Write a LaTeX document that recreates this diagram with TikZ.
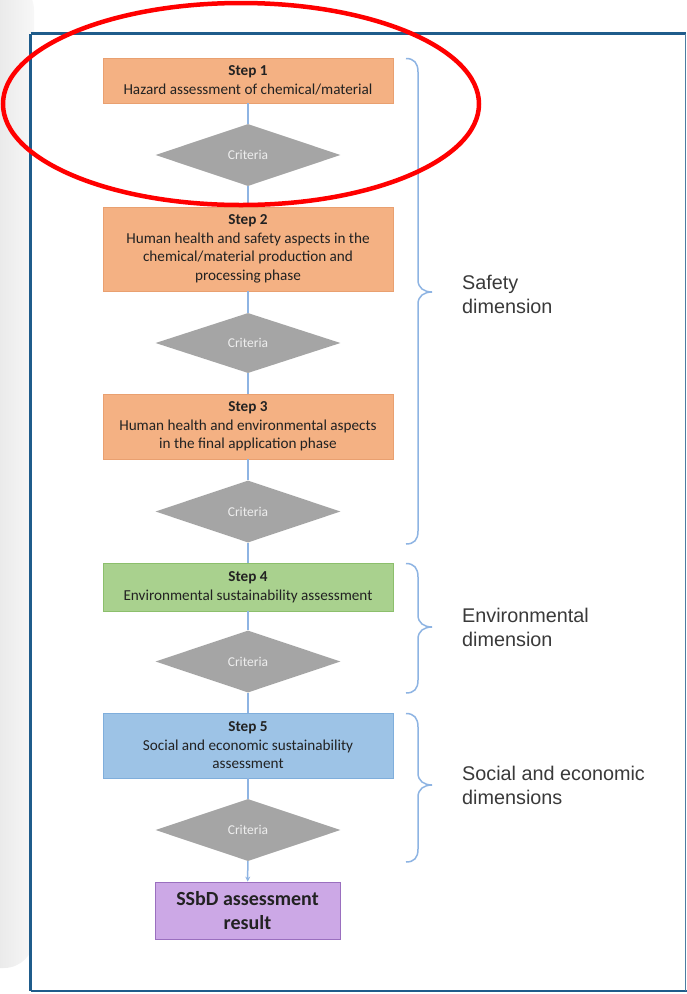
\documentclass[tikz,border=0pt]{standalone}
\usepackage{fontspec}
\setmainfont{Carlito}
\newfontfamily\labelfont{Liberation Sans}
\usetikzlibrary{shapes.geometric,arrows.meta}

\definecolor{frameblue}{HTML}{1F5C8B}
\definecolor{orangefill}{HTML}{F4B183}
\definecolor{orangeline}{HTML}{E9A070}
\definecolor{greenfill}{HTML}{A9D18E}
\definecolor{greenline}{HTML}{8CBF6C}
\definecolor{bluefill}{HTML}{9DC3E6}
\definecolor{blueline}{HTML}{7FAEDC}
\definecolor{purplefill}{HTML}{CCA8E6}
\definecolor{purpleline}{HTML}{9A6FBF}
\definecolor{diamondgray}{HTML}{A5A5A5}
\definecolor{linkblue}{HTML}{8EB4E3}
\definecolor{bodytext}{HTML}{222222}
\definecolor{labeltext}{HTML}{3A3A3A}
\definecolor{critext}{HTML}{EEEEEE}

\tikzset{
  stepbox/.style={draw=#1line, fill=#1fill, line width=0.8pt, rectangle,
    minimum width=290pt, inner sep=0pt, align=center, text=bodytext,
    font=\fontsize{15.2}{18.5}\selectfont},
  critbox/.style={diamond, fill=diamondgray, draw=none, inner sep=0pt,
    minimum width=185pt, minimum height=62pt, aspect=3, text=critext,
    font=\fontsize{13.5}{15}\selectfont},
  link/.style={draw=linkblue, line width=1.5pt},
  dimbrace/.style={draw=linkblue, line width=1.5pt},
  dimlabel/.style={anchor=west, align=left, text=labeltext, inner sep=0pt,
    font=\labelfont\fontsize{19.8}{24}\selectfont},
}

\begin{document}
\begin{tikzpicture}[x=1pt,y=-1pt]
\useasboundingbox (0,0) rectangle (687,994);

% shaded card edge behind the frame
\shade[left color=gray!28, right color=gray!6, rounded corners=30pt]
  (-40,-20) rectangle (34,968);
\fill[white] (30,33) rectangle (687,994);

% outer frame
\draw[frameblue, line width=2.5pt] (30.5,33.5) -- (685.5,33.5);
\draw[frameblue, line width=2.5pt] (30.5,33.5) -- (30.5,991);
\draw[frameblue, line width=2.5pt] (30.5,991) -- (687,991);
\draw[frameblue!80, line width=1.5pt] (685.5,33.5) -- (685.5,991);

% process steps
\node[stepbox=orange, minimum height=45pt] (s1) at (248,80.5)
  {\textbf{Step 1}\\Hazard assessment  of chemical/material};
\node[critbox] (c1) at (248,155) {Criteria};
\node[stepbox=orange, minimum height=84pt] (s2) at (248,249)
  {\textbf{Step 2}\\Human health and safety aspects in the\\chemical/material production and\\processing phase};
\node[critbox, minimum height=60pt] (c2) at (248,343) {Criteria};
\node[stepbox=orange, minimum height=65pt] (s3) at (248,426.5)
  {\textbf{Step 3}\\Human health and environmental aspects\\in the final application phase};
\node[critbox] (c3) at (248,511.5) {Criteria};
\node[stepbox=green, minimum height=48pt] (s4) at (248,587)
  {\textbf{Step 4}\\Environmental sustainability assessment};
\node[critbox] (c4) at (248,661.5) {Criteria};
\node[stepbox=blue, minimum height=65pt] (s5) at (248,745.5)
  {\textbf{Step 5}\\Social and economic sustainability\\assessment};
\node[critbox] (c5) at (248,830) {Criteria};
\node[stepbox=purple, minimum width=185pt, minimum height=57pt,
  font=\bfseries\fontsize{20}{24}\selectfont] (res) at (247.5,910.5)
  {SSbD assessment\\result};

% connectors
\draw[link] (s1) -- (c1);
\draw[link] (c1) -- (s2);
\draw[link] (s2) -- (c2);
\draw[link] (c2) -- (s3);
\draw[link] (s3) -- (c3);
\draw[link] (c3) -- (s4);
\draw[link] (s4) -- (c4);
\draw[link] (c4) -- (s5);
\draw[link] (s5) -- (c5);
\draw[link, -{Stealth[length=5pt,width=5pt]}] (c5) -- (res);

% dimension braces
\draw[dimbrace] (406,58.5) .. controls (414,58.5) and (418,63) .. (418,72)
  -- (418,280) .. controls (418,288) and (424,292) .. (432,292)
  .. controls (424,292) and (418,296) .. (418,304)
  -- (418,531) .. controls (418,540) and (414,544) .. (406,544);
\draw[dimbrace] (406,563.5) .. controls (414,563.5) and (418,568) .. (418,577)
  -- (418,615) .. controls (418,623) and (424,627) .. (432,627)
  .. controls (424,627) and (418,631) .. (418,639)
  -- (418,680) .. controls (418,689) and (414,693) .. (406,693);
\draw[dimbrace] (406,713.5) .. controls (414,713.5) and (418,718) .. (418,727)
  -- (418,773) .. controls (418,781) and (424,785) .. (432,785)
  .. controls (424,785) and (418,789) .. (418,797)
  -- (418,849) .. controls (418,858) and (414,862) .. (406,862);

\node[dimlabel] (lsafe) at (462,294) {Safety\\dimension};
\node[dimlabel] (lenv) at (462,627) {Environmental\\dimension};
\node[dimlabel] (lsoc) at (462,785) {Social and economic\\dimensions};

% highlight ring round the first step
\draw[red, line width=4.5pt] (241,104) ellipse [x radius=238pt, y radius=101pt];
\end{tikzpicture}
\end{document}
